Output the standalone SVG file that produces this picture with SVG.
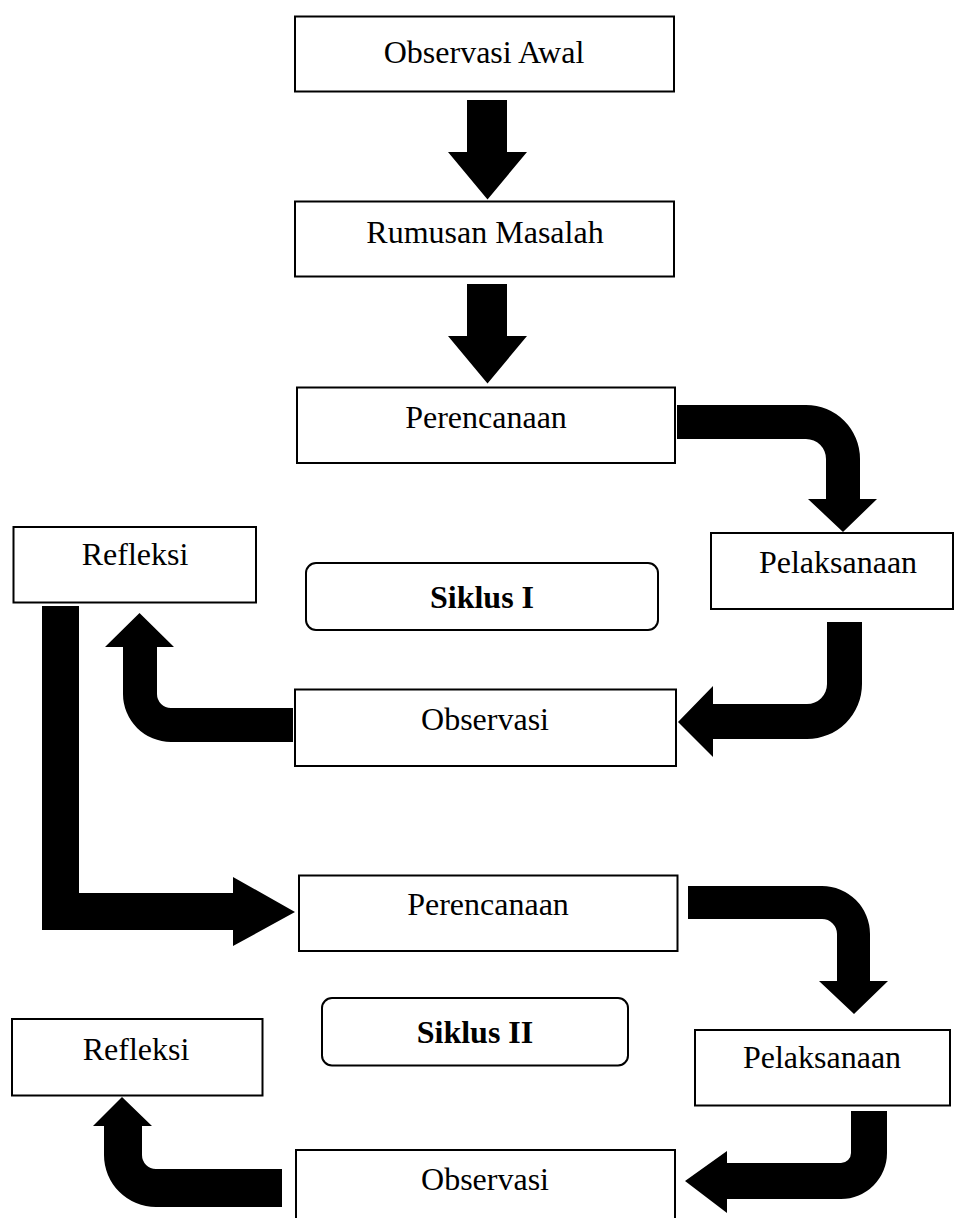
<svg xmlns="http://www.w3.org/2000/svg" width="954" height="1218" viewBox="0 0 954 1218">
<style>
.box{fill:#fff;stroke:#000;stroke-width:2}
.lbl{font-family:"Liberation Serif","Times New Roman",serif;font-size:32px;fill:#000;text-anchor:middle}
.b{font-weight:bold}
.arr{fill:#000;stroke:none}
</style>
<rect width="954" height="1218" fill="#fff"/>
<g id="connectors">
<path class="arr" d="M467,100 H507 V152 H527 L487.5,199.5 L448,152 H467 Z"/>
<path class="arr" d="M467,284 H507 V336 H527 L487.5,383.5 L448,336 H467 Z"/>
<path class="arr" d="M677,405 H806 A54,54 0 0 1 860,459 V499 H877 L843,532 L808,499 H826 V459 A20,20 0 0 0 806,439 H677 Z"/>
<path class="arr" d="M827,622 H862 V684 A55,55 0 0 1 807,739 H713 V757 L678,722 L713,686 V704 H807 A20,20 0 0 0 827,684 Z"/>
<path class="arr" d="M293,742 H171 A48,48 0 0 1 123,694 V647 H105 L139.5,613 L174,647 H157 V694 A14,14 0 0 0 171,708 H293 Z"/>
<path class="arr" d="M42,606 H79 V893 H233 V877 L295,912 L233,946 V930 H42 Z"/>
<path class="arr" d="M688,886 H822 A48,48 0 0 1 870,934 V981 H888 L854,1014 L819,981 H837 V934 A15,15 0 0 0 822,919 H688 Z"/>
<path class="arr" d="M851,1111 H887 V1153 A46,46 0 0 1 841,1199 H727 V1213 L685,1181 L727,1151 V1163 H841 A10,10 0 0 0 851,1153 Z"/>
<path class="arr" d="M282,1207 H156 A52,52 0 0 1 104,1155 V1126 H93 L122,1097 L152,1126 H142 V1155 A14,14 0 0 0 156,1169 H282 Z"/>
</g>
<g id="observasi-awal"><rect class="box" x="295" y="16.5" width="379" height="75"/><text class="lbl" x="484" y="63">Observasi Awal</text></g>
<g id="rumusan-masalah"><rect class="box" x="295" y="201.5" width="379" height="75"/><text class="lbl" x="485" y="243">Rumusan Masalah</text></g>
<g id="perencanaan-1"><rect class="box" x="297" y="387.5" width="378" height="75.5"/><text class="lbl" x="486" y="428">Perencanaan</text></g>
<g id="pelaksanaan-1"><rect class="box" x="711" y="533" width="242" height="76"/><text class="lbl" x="838" y="573">Pelaksanaan</text></g>
<g id="refleksi-1"><rect class="box" x="13.5" y="527" width="242.5" height="75.5"/><text class="lbl" x="135" y="565">Refleksi</text></g>
<g id="siklus-1"><rect class="box" x="306" y="563" width="352" height="67" rx="10"/><text class="lbl b" x="482" y="608">Siklus I</text></g>
<g id="observasi-1"><rect class="box" x="295" y="689.5" width="381" height="76.5"/><text class="lbl" x="485" y="730">Observasi</text></g>
<g id="perencanaan-2"><rect class="box" x="299" y="875.5" width="378.5" height="75.5"/><text class="lbl" x="488" y="915">Perencanaan</text></g>
<g id="siklus-2"><rect class="box" x="322" y="998" width="306" height="67.5" rx="10"/><text class="lbl b" x="475" y="1043">Siklus II</text></g>
<g id="pelaksanaan-2"><rect class="box" x="695" y="1030" width="255" height="75.5"/><text class="lbl" x="822" y="1068">Pelaksanaan</text></g>
<g id="refleksi-2"><rect class="box" x="12" y="1019" width="250.5" height="76.5"/><text class="lbl" x="136" y="1060">Refleksi</text></g>
<g id="observasi-2"><rect class="box" x="296" y="1150" width="379" height="80"/><text class="lbl" x="485" y="1190">Observasi</text></g>
</svg>
